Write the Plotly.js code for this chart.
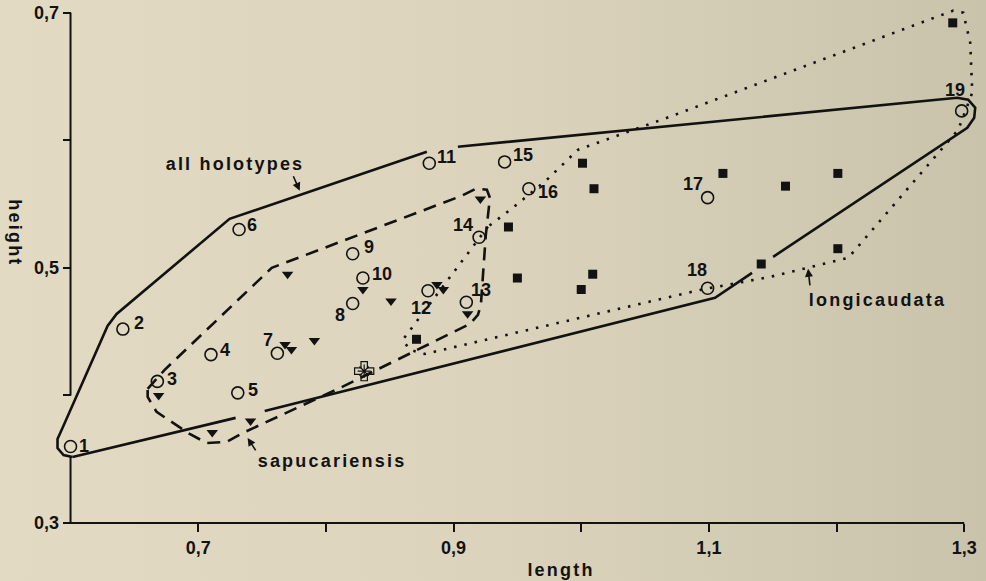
<!DOCTYPE html>
<html>
<head>
<meta charset="utf-8">
<script src="https://cdn.plot.ly/plotly-3.0.1.min.js"></script>
<style>
html, body { margin: 0; padding: 0; }
body { width: 986px; height: 581px; overflow: hidden;
  background: linear-gradient(to right, #e3dac4 0%, #ddd4bd 45%, #d3ccb4 75%, #c9c3ab 100%); }
#chart { width: 986px; height: 581px; }
g.annotation[data-index="0"] text, g.annotation[data-index="1"] text, g.annotation[data-index="2"] text,
g.annotation[data-index="3"] text, g.annotation[data-index="4"] text { letter-spacing: 2.2px; }
</style>
</head>
<body>
<div id="chart"></div>
<script>
// ---- data ----
const holoId = ['1','2','3','4','5','6','7','8','9','10','11','12','13','14','15','16','17','18','19'];
const holoX = [0.600,0.641,0.668,0.710,0.731,0.732,0.762,0.821,0.821,0.829,0.881,0.880,0.910,0.920,0.940,0.959,1.099,1.099,1.298];
const holoY = [0.360,0.452,0.411,0.432,0.402,0.530,0.433,0.472,0.511,0.492,0.582,0.482,0.473,0.524,0.583,0.562,0.555,0.484,0.623];

const longX = [0.871,0.943,0.950,1.001,1.010,1.000,1.009,1.111,1.160,1.201,1.201,1.141,1.291];
const longY = [0.444,0.532,0.492,0.582,0.562,0.483,0.495,0.574,0.564,0.574,0.515,0.503,0.692];

const sapuX = [0.669,0.711,0.741,0.768,0.773,0.791,0.770,0.829,0.851,0.887,0.892,0.911,0.921];
const sapuY = [0.400,0.371,0.380,0.440,0.436,0.443,0.495,0.483,0.474,0.487,0.483,0.464,0.554];

const specX = [0.830];
const specY = [0.419];

// outlines (polygons)
const hullAllX = [0.6016,0.5945,0.5898,0.5898,0.5937,0.629,0.6361,0.7246,0.8791,null,0.9034,1.2945,1.3031,1.3086,1.3078,1.3024,1.1503,null,1.1338,1.1048,0.7521,null,0.7293,0.6016];
const hullAllY = [0.3518,0.3533,0.3588,0.3659,0.3745,0.4545,0.4639,0.5384,0.591,null,0.5949,0.6333,0.6318,0.6255,0.6176,0.6098,0.5086,null,0.4961,0.4765,0.3878,null,0.3824,0.3518];

const hullSapuX = [0.6604,0.6737,0.7576,0.9065,0.9175,0.9261,0.9285,0.9253,0.9214,0.9191,0.9128,0.8109,0.7348,0.7223,0.7066,0.6933,0.6674,0.6604,0.6604];
const hullSapuY = [0.4051,0.42,0.5,0.5565,0.562,0.5612,0.5549,0.526,0.471,0.4631,0.456,0.4058,0.3705,0.3635,0.3627,0.3698,0.3871,0.3988,0.4051];

const hullLongX = [0.9269,0.8602,0.8657,0.8775,1.0931,1.1479,1.2091,1.2146,1.2953,1.3063,1.3047,1.2992,1.2914,1.2788,1.0672,0.9974,0.9731,0.9465,0.9269];
const hullLongY = [0.5322,0.4435,0.4357,0.4325,0.4827,0.4929,0.5078,0.5141,0.6082,0.6373,0.6765,0.7,0.7016,0.6969,0.6176,0.5925,0.569,0.5471,0.5322];

const xTickVals = [0.7,0.8,0.9,1.0,1.1,1.2,1.3];
const xTickText = ['0,7','','0,9','','1,1','','1,3'];
const yTickVals = [0.3,0.4,0.5,0.6,0.7];
const yTickText = ['0,3','','0,5','','0,7'];

// ---- label offsets (px) for the holotype numbers ----
const labelDX = [13,16,15,14,15,13,-9,-13,16,19,17,-7,15,-16,18,19,-15,-11,-7];
const labelDY = [0,6,2,5,3,5,13,-11,7,4,6,-17,12,12,7,-3,14,18,21];

const INK = '#121212';
const boldFont = 'Liberation Sans, Arial, Helvetica, sans-serif';
const narrowFont = 'Liberation Sans Narrow, Arial Narrow, Liberation Sans, sans-serif';

const traces = [
  { x: hullAllX, y: hullAllY, mode: 'lines', connectgaps: false, hoverinfo: 'skip',
    line: { color: INK, width: 2.6 } },
  { x: hullSapuX, y: hullSapuY, mode: 'lines', hoverinfo: 'skip',
    line: { color: INK, width: 2.6, dash: '13px,8px' } },
  { x: hullLongX, y: hullLongY, mode: 'lines', hoverinfo: 'skip',
    line: { color: INK, width: 2.6, dash: '2.5px,8px' } },
  { x: holoX, y: holoY, mode: 'markers', marker: { symbol: 'circle-open', size: 12, color: INK, line: { width: 1.6, color: INK } } },
  { x: longX, y: longY, mode: 'markers', marker: { symbol: 'square', size: 9, color: INK } },
  { x: sapuX, y: sapuY, mode: 'markers', marker: { symbol: 'triangle-down', size: 10, color: INK } },
  { x: specX, y: specY, mode: 'markers', marker: { symbol: 'cross-open', size: 16, color: INK, line: { width: 1.2, color: INK } } },
  { x: specX, y: specY, mode: 'markers', marker: { symbol: 'asterisk-open', size: 11, color: INK, line: { width: 1.2, color: INK } } }
];

const wordFont = { family: boldFont, size: 18, weight: 'bold', color: INK };
const annotations = [
  { text: 'all holotypes', x: 0.7292, y: 0.5816, xref: 'x', yref: 'y', xanchor: 'center', yanchor: 'middle', showarrow: false, font: wordFont },
  { text: 'sapucariensis', x: 0.8048, y: 0.3486, xref: 'x', yref: 'y', xanchor: 'center', yanchor: 'middle', showarrow: false, font: wordFont },
  { text: 'longicaudata', x: 1.2325, y: 0.4749, xref: 'x', yref: 'y', xanchor: 'center', yanchor: 'middle', showarrow: false, font: wordFont },
  { text: 'length', x: 0.5536, y: -0.0907, xref: 'paper', yref: 'paper', xanchor: 'center', yanchor: 'middle', showarrow: false, font: wordFont },
  { text: 'height', x: -0.0322, y: 0.56, xref: 'paper', yref: 'paper', xanchor: 'center', yanchor: 'middle', showarrow: false, textangle: 90, font: wordFont },
  // pointer arrows
  { text: '', x: 0.7795, y: 0.5604, xref: 'x', yref: 'y', showarrow: true, ax: -7, ay: -16, arrowhead: 2, arrowsize: 1, arrowwidth: 1.6, arrowcolor: INK },
  { text: '', x: 0.7387, y: 0.3667, xref: 'x', yref: 'y', showarrow: true, ax: 9, ay: 14, arrowhead: 2, arrowsize: 1, arrowwidth: 1.6, arrowcolor: INK },
  { text: '', x: 1.1777, y: 0.4992, xref: 'x', yref: 'y', showarrow: true, ax: 2, ay: 18, arrowhead: 2, arrowsize: 1, arrowwidth: 1.6, arrowcolor: INK }
];
holoId.forEach((id, i) => {
  annotations.push({ text: id, x: holoX[i], y: holoY[i], xref: 'x', yref: 'y', showarrow: false,
    xshift: labelDX[i], yshift: labelDY[i], xanchor: 'center', yanchor: 'middle',
    font: { family: boldFont, size: 18, weight: 'bold', color: INK } });
});

const layout = {
  width: 986, height: 581,
  margin: { l: 45, r: 9, t: 5, b: 58, pad: 0, autoexpand: false },
  paper_bgcolor: 'rgba(0,0,0,0)', plot_bgcolor: 'rgba(0,0,0,0)',
  showlegend: false,
  xaxis: { range: [0.58, 1.31], showgrid: false, zeroline: false, showline: false,
    tickmode: 'array', tickvals: xTickVals, ticktext: xTickText,
    ticks: 'outside', ticklen: 8, tickwidth: 2, tickcolor: INK,
    tickfont: { family: narrowFont, size: 18, weight: 'bold', color: INK } },
  yaxis: { range: [0.3, 0.706], showgrid: false, zeroline: false, showline: false,
    anchor: 'free', position: 0.0274,
    tickmode: 'array', tickvals: yTickVals, ticktext: yTickText,
    ticks: 'outside', ticklen: 8, tickwidth: 2, tickcolor: INK,
    tickfont: { family: narrowFont, size: 18, weight: 'bold', color: INK } },
  shapes: [
    { type: 'line', xref: 'x', yref: 'paper', x0: 0.6, x1: 1.3, y0: 0, y1: 0, line: { color: INK, width: 2 } },
    { type: 'line', xref: 'x', yref: 'y', x0: 0.6, x1: 0.6, y0: 0.3, y1: 0.352, line: { color: INK, width: 2 } },
    { type: 'line', xref: 'x', yref: 'y', x0: 0.6, x1: 0.6, y0: 0.4, y1: 0.7, line: { color: INK, width: 2 } }
  ],
  annotations: annotations
};

Plotly.newPlot('chart', traces, layout, { displayModeBar: false, staticPlot: true });
</script>
</body>
</html>
